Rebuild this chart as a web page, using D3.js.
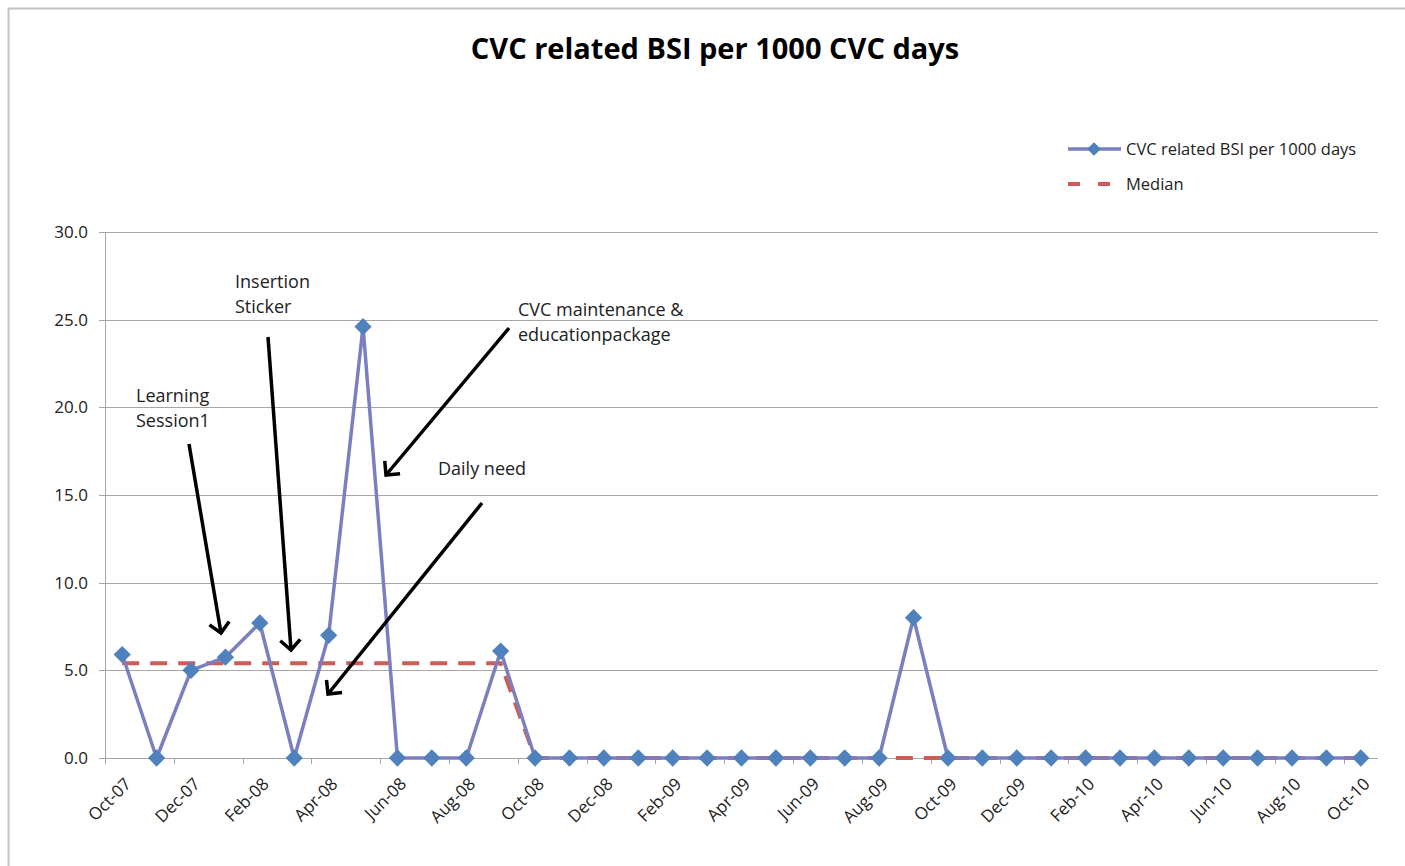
<!DOCTYPE html>
<html>
<head>
<meta charset="utf-8">
<script src="https://cdn.jsdelivr.net/npm/d3@7"></script>
<style>
  body { margin: 0; background: #fff; }
  svg { display: block; font-family: "Open Sans", "Noto Sans", sans-serif; }
</style>
</head>
<body>
<div id="chart"></div>
<script>
// Months Oct-07 .. Oct-10
const months = [
  'Oct-07', 'Nov-07', 'Dec-07', 'Jan-08', 'Feb-08', 'Mar-08', 'Apr-08', 'May-08', 'Jun-08',
  'Jul-08', 'Aug-08', 'Sep-08', 'Oct-08', 'Nov-08', 'Dec-08', 'Jan-09', 'Feb-09', 'Mar-09',
  'Apr-09', 'May-09', 'Jun-09', 'Jul-09', 'Aug-09', 'Sep-09', 'Oct-09', 'Nov-09', 'Dec-09',
  'Jan-10', 'Feb-10', 'Mar-10', 'Apr-10', 'May-10', 'Jun-10', 'Jul-10', 'Aug-10', 'Sep-10', 'Oct-10'
];

const bsiRate = [
  5.9, 0, 5.0, 5.75, 7.7, 0, 7.0, 24.6, 0,
  0, 0, 6.1, 0, 0, 0, 0, 0, 0,
  0, 0, 0, 0, 0, 8.0, 0, 0, 0,
  0, 0, 0, 0, 0, 0, 0, 0, 0, 0
];

const median = [
  5.4, 5.4, 5.4, 5.4, 5.4, 5.4, 5.4, 5.4, 5.4,
  5.4, 5.4, 5.4, 0, 0, 0, 0, 0, 0,
  0, 0, 0, 0, 0, 0, 0, 0, 0,
  0, 0, 0, 0, 0, 0, 0, 0, 0, 0
];

const yTicks = [0, 5, 10, 15, 20, 25, 30];

const seriesNames = ['CVC related BSI per 1000 days', 'Median'];

// callouts: label lines, label position, arrow from -> to (pixels)
const callouts = [
  { lines: ['Learning', 'Session1'], tx: 136, ty: 402, from: [189, 444], to: [221, 633] },
  { lines: ['Insertion', 'Sticker'], tx: 235, ty: 288, from: [268, 337], to: [291, 650] },
  { lines: ['CVC maintenance &', 'educationpackage'], tx: 518, ty: 316, from: [509, 328], to: [386, 475] },
  { lines: ['Daily need'], tx: 438, ty: 475, from: [482, 503], to: [328, 694] }
];

const W = 1405, H = 866;
const margin = { left: 105, right: 27, top: 232, bottom: 108 };

const svg = d3.select('#chart').append('svg')
  .attr('width', W)
  .attr('height', H);

// chart border
svg.append('rect')
  .attr('x', 8.5).attr('y', 8.5)
  .attr('width', W + 20).attr('height', H + 20)
  .attr('fill', '#fff')
  .attr('stroke', '#c4c4c4')
  .attr('stroke-width', 2);

svg.append('text')
  .attr('x', 715)
  .attr('y', 59)
  .attr('text-anchor', 'middle')
  .attr('font-size', '29px')
  .attr('font-weight', 'bold')
  .attr('fill', '#000')
  .text('CVC related BSI per 1000 CVC days');

const x = d3.scaleBand()
  .domain(months)
  .range([margin.left, W - margin.right])
  .padding(0);

const y = d3.scaleLinear()
  .domain([0, 30])
  .range([H - margin.bottom, margin.top]);

const cx = m => x(m) + x.bandwidth() / 2;

// gridlines
svg.append('g')
  .selectAll('line')
  .data(yTicks)
  .enter()
  .append('line')
  .attr('x1', margin.left - 6)
  .attr('x2', W - margin.right)
  .attr('y1', d => Math.round(y(d)) + 0.5)
  .attr('y2', d => Math.round(y(d)) + 0.5)
  .attr('stroke', '#a6a6a6')
  .attr('stroke-width', 1);

// y axis line
svg.append('line')
  .attr('x1', margin.left + 0.5).attr('x2', margin.left + 0.5)
  .attr('y1', y(30)).attr('y2', y(0))
  .attr('stroke', '#a6a6a6');

// y tick labels
svg.append('g')
  .selectAll('text')
  .data(yTicks)
  .enter()
  .append('text')
  .attr('x', margin.left - 17)
  .attr('y', d => y(d))
  .attr('dy', '0.35em')
  .attr('text-anchor', 'end')
  .attr('font-size', '17px')
  .attr('fill', '#222')
  .text(d => d.toFixed(1));

// x tick marks every 2 categories
const tickIdx = d3.range(0, months.length + 1, 2);
svg.append('g')
  .selectAll('line')
  .data(tickIdx)
  .enter()
  .append('line')
  .attr('x1', i => Math.round(margin.left + i * x.bandwidth()) + 0.5)
  .attr('x2', i => Math.round(margin.left + i * x.bandwidth()) + 0.5)
  .attr('y1', y(0))
  .attr('y2', y(0) + 6)
  .attr('stroke', '#a6a6a6');

// x labels every 2 months
svg.append('g')
  .selectAll('text')
  .data(months.filter((m, i) => i % 2 === 0))
  .enter()
  .append('text')
  .attr('transform', m => `translate(${cx(m) + 10},${y(0) + 27}) rotate(-45)`)
  .attr('text-anchor', 'end')
  .attr('font-size', '17px')
  .attr('fill', '#222')
  .text(m => m);

// median line
const lineGen = d3.line()
  .x((d, i) => cx(months[i]))
  .y(d => y(d));

svg.append('path')
  .datum(median)
  .attr('d', lineGen)
  .attr('fill', 'none')
  .attr('stroke', '#d05a55')
  .attr('stroke-width', 4)
  .attr('stroke-dasharray', '17,11');

// series line
svg.append('path')
  .datum(bsiRate)
  .attr('d', lineGen)
  .attr('fill', 'none')
  .attr('stroke', '#7b7fc0')
  .attr('stroke-width', 3.5)
  .attr('stroke-linejoin', 'round');

const diamond = d3.symbol().type(d3.symbolDiamond2).size(190);

svg.append('g')
  .selectAll('path')
  .data(bsiRate)
  .enter()
  .append('path')
  .attr('d', diamond)
  .attr('transform', (d, i) => `translate(${cx(months[i])},${y(d)})`)
  .attr('fill', '#4f81bd');

// callouts
const defs = svg.append('defs');
defs.append('marker')
  .attr('id', 'arrowhead')
  .attr('markerWidth', 24)
  .attr('markerHeight', 24)
  .attr('refX', 12)
  .attr('refY', 12)
  .attr('markerUnits', 'userSpaceOnUse')
  .attr('orient', 'auto')
  .append('path')
  .attr('d', 'M2,2 L12,12 L2,22')
  .attr('fill', 'none')
  .attr('stroke', '#000')
  .attr('stroke-width', 3.5);

callouts.forEach(c => {
  svg.append('line')
    .attr('x1', c.from[0]).attr('y1', c.from[1])
    .attr('x2', c.to[0]).attr('y2', c.to[1])
    .attr('stroke', '#000')
    .attr('stroke-width', 3.5)
    .attr('marker-end', 'url(#arrowhead)');

  const t = svg.append('text')
    .attr('x', c.tx)
    .attr('y', c.ty)
    .attr('font-size', '18px')
    .attr('fill', '#222');
  c.lines.forEach((ln, k) => {
    t.append('tspan')
      .attr('x', c.tx)
      .attr('dy', k === 0 ? 0 : 25)
      .text(ln);
  });
});

// legend
const legend = svg.append('g');
legend.append('line')
  .attr('x1', 1068).attr('x2', 1121)
  .attr('y1', 149).attr('y2', 149)
  .attr('stroke', '#7b7fc0')
  .attr('stroke-width', 3.5);
legend.append('path')
  .attr('d', d3.symbol().type(d3.symbolDiamond2).size(120))
  .attr('transform', 'translate(1094,149)')
  .attr('fill', '#4f81bd');
legend.append('line')
  .attr('x1', 1068).attr('x2', 1112)
  .attr('y1', 184).attr('y2', 184)
  .attr('stroke', '#d05a55')
  .attr('stroke-width', 4)
  .attr('stroke-dasharray', '12,18');
legend.selectAll('text.lg')
  .data(seriesNames)
  .enter()
  .append('text')
  .attr('class', 'lg')
  .attr('x', 1126)
  .attr('y', (d, i) => 149 + i * 35)
  .attr('dy', '0.35em')
  .attr('font-size', '16.5px')
  .attr('fill', '#222')
  .text(d => d);
</script>
</body>
</html>
